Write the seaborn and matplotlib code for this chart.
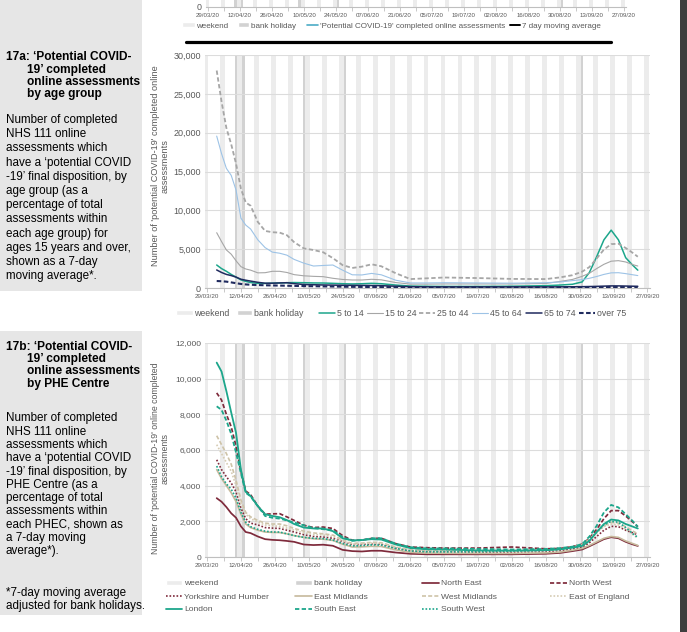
import numpy as np
import pandas as pd
import matplotlib
matplotlib.use("Agg")
import matplotlib.pyplot as plt
import seaborn as sns
from matplotlib.patches import Patch, Rectangle
from matplotlib.lines import Line2D
from matplotlib.ticker import FuncFormatter, FixedLocator

sns.set_style("white")
plt.rcParams["font.family"] = ["Liberation Sans", "DejaVu Sans"]

# ---------------- data ----------------
start_date = "2020-03-29"
days = [4, 6, 8, 10, 12, 14, 16, 18, 21, 24, 27, 30, 33, 36, 40, 44, 48, 52, 56, 60,
        64, 68, 72, 78, 84, 91, 98, 112, 126, 140, 146, 151, 155, 158, 161, 164, 167,
        170, 173, 176, 178]
tick_days = list(range(0, 183, 14))
bank_holidays = ["2020-04-10", "2020-04-13", "2020-05-08", "2020-05-25", "2020-08-31"]

age_labels = ["5 to 14", "15 to 24", "25 to 44", "45 to 64", "65 to 74", "over 75"]
age_5_14 = [2960, 2500, 2150, 1750, 1400, 1050, 850, 700, 600, 580, 620, 650, 680, 700,
            680, 650, 640, 600, 550, 520, 550, 600, 550, 380, 250, 220, 200, 200, 230, 300,
            380, 480, 780, 2000, 4030, 6200, 7450, 6200, 3900, 2900, 2300]
age_15_24 = [7120, 5980, 4900, 4350, 3500, 2750, 2450, 2300, 1950, 1970, 2150, 2150, 2000, 1720,
             1570, 1500, 1460, 1250, 1100, 1030, 1030, 1120, 1050, 700, 500, 500, 520, 520, 520, 580,
             850, 1100, 1500, 1900, 2500, 3050, 3450, 3520, 3350, 3000, 2830]
age_25_44 = [28000, 24000, 20600, 18500, 16000, 12800, 11000, 10600, 8500, 7350, 7180, 7130, 6800, 5900,
             5100, 4890, 4600, 3850, 2950, 2580, 2750, 3050, 2800, 1900, 1150, 1250, 1350, 1280, 1170, 1150,
             1370, 1650, 2100, 2700, 3800, 4950, 5650, 5700, 5150, 4500, 4030]
age_45_64 = [19560, 17300, 15400, 14500, 12600, 9000, 8100, 7600, 6200, 5200, 4620, 4480, 4230, 3680,
             3200, 2830, 2900, 2960, 2300, 1700, 1680, 1880, 1700, 1000, 650, 650, 680, 650, 620, 680,
             780, 950, 1080, 1250, 1480, 1750, 1950, 1970, 1850, 1700, 1600]
age_65_74 = [2320, 2000, 1750, 1600, 1400, 1130, 1000, 890, 730, 620, 620, 650, 680, 560,
             450, 420, 390, 370, 350, 340, 330, 320, 300, 230, 170, 150, 140, 140, 140, 140,
             150, 160, 170, 190, 210, 240, 270, 270, 250, 230, 220]
age_over_75 = [900, 870, 820, 720, 620, 520, 460, 420, 380, 350, 330, 310, 290, 270,
               250, 230, 210, 190, 170, 150, 140, 130, 120, 100, 90, 80, 80, 80, 80, 80,
               85, 90, 95, 100, 110, 120, 130, 130, 125, 120, 115]

phec_labels = ["North East", "North West", "Yorkshire and Humber", "East Midlands",
               "West Midlands", "East of England", "London", "South East", "South West"]
north_east = [3300, 3100, 2800, 2450, 2200, 1720, 1400, 1340, 1150, 1000, 960, 940, 900, 850,
              700, 670, 690, 630, 400, 330, 310, 350, 350, 250, 180, 150, 150, 150, 150, 180,
              230, 330, 420, 600, 800, 1000, 1110, 1050, 850, 700, 620]
north_west = [9200, 8800, 8000, 7300, 6200, 4800, 3700, 3500, 2850, 2400, 2420, 2430, 2250, 2050,
              1780, 1650, 1680, 1600, 1200, 940, 950, 1040, 1050, 750, 560, 520, 500, 500, 560, 460,
              480, 580, 720, 1050, 1550, 2150, 2600, 2600, 2300, 1950, 1700]
yorkshire = [5450, 4900, 4500, 4150, 3650, 2750, 2150, 1900, 1800, 1650, 1620, 1600, 1500, 1400,
             1250, 1150, 1120, 1050, 880, 690, 700, 730, 720, 500, 350, 300, 300, 280, 280, 300,
             360, 450, 550, 800, 1150, 1500, 1720, 1700, 1500, 1350, 1250]
east_midlands = [4900, 4400, 4000, 3600, 3100, 2400, 1850, 1650, 1500, 1400, 1380, 1370, 1300, 1200,
                 1100, 1020, 1000, 930, 720, 560, 570, 600, 590, 400, 260, 220, 210, 200, 200, 230,
                 280, 380, 480, 650, 850, 1050, 1150, 1100, 900, 750, 650]
west_midlands = [6800, 6300, 5800, 5200, 4300, 3200, 2500, 2250, 2050, 1900, 1850, 1850, 1750, 1600,
                 1450, 1350, 1300, 1230, 950, 760, 780, 820, 800, 560, 400, 360, 360, 350, 350, 380,
                 450, 560, 700, 1000, 1400, 1750, 1950, 1900, 1700, 1450, 1300]
east_of_england = [6300, 5800, 5300, 4800, 4000, 3000, 2400, 2150, 1950, 1800, 1750, 1720, 1620, 1500,
                   1350, 1260, 1230, 1150, 900, 720, 740, 780, 760, 540, 380, 340, 340, 330, 330, 360,
                   430, 540, 660, 950, 1350, 1700, 1850, 1800, 1550, 1250, 1050]
london = [10900, 10400, 9300, 8100, 6950, 4900, 3650, 3420, 2850, 2400, 2300, 2230, 2070, 1850,
          1650, 1600, 1600, 1450, 1050, 930, 950, 1000, 980, 700, 500, 430, 420, 370, 360, 380,
          430, 520, 620, 900, 1400, 1850, 2100, 2050, 1850, 1700, 1600]
south_east = [8450, 8250, 7650, 6900, 5850, 4700, 3600, 3400, 2850, 2300, 2200, 2150, 2050, 1930,
              1780, 1620, 1560, 1500, 1120, 910, 950, 1050, 1050, 750, 550, 480, 480, 450, 420, 450,
              500, 580, 720, 1150, 1750, 2500, 2920, 2780, 2400, 2000, 1700]
south_west = [5100, 4500, 4100, 3800, 3300, 2500, 1950, 1700, 1550, 1450, 1400, 1400, 1300, 1200,
              1100, 1050, 1030, 950, 760, 620, 640, 680, 670, 480, 340, 290, 290, 300, 330, 380,
              440, 540, 650, 950, 1400, 1800, 2000, 1950, 1650, 1300, 1100]

# ---------------- styles ----------------
W, H = 687, 632
TEXT_C = "#595959"
AXIS_C = "#BFBFBF"
GRID_C = "#DCDCDC"
WEEKEND_C = "#ECECEC"
BANK_C = "#D2D2D2"
PANEL_C = "#E6E6E6"
TEAL = "#1CA68B"
GREY = "#A6A6A6"
LBLUE = "#9DC3E6"
NAVY = "#1F2A5E"
MAROON = "#7E2A3B"
BEIGE1, BEIGE2, BEIGE3 = "#C6B99C", "#CEC3A8", "#D6CCB4"

age_colors = dict(zip(age_labels, [TEAL, GREY, GREY, LBLUE, NAVY, NAVY]))
age_dashes = dict(zip(age_labels, ["", "", (2.4, 1.4), "", "", (2.2, 1.2)]))
age_widths = dict(zip(age_labels, [1.1, 0.8, 1.3, 0.8, 1.1, 1.5]))

phec_colors = dict(zip(phec_labels, [MAROON, MAROON, MAROON, BEIGE1, BEIGE2, BEIGE3, TEAL, TEAL, TEAL]))
phec_dashes = dict(zip(phec_labels, ["", (2.4, 1.3), (1, 1.1), "", (2.4, 1.3), (1, 1.1), "", (2.4, 1.3), (1, 1.1)]))
phec_widths = dict(zip(phec_labels, [1.25, 1.25, 1.2, 1.2, 1.2, 1.2, 1.3, 1.3, 1.2]))

XMIN, XMAX = -1, 183

start = pd.Timestamp(start_date)
all_days = np.arange(-3, 186)
all_dates = start + pd.to_timedelta(all_days, unit="D")
weekend_days = all_days[all_dates.dayofweek >= 5]
bank_days = [(pd.Timestamp(d) - start).days for d in bank_holidays]
tick_labels = [(start + pd.Timedelta(days=int(d))).strftime("%d/%m/%y") for d in tick_days]

fig = plt.figure(figsize=(W / 100, H / 100), dpi=100)
fig.patch.set_facecolor("white")


def fx(x):
    return x / W


def fy(y):
    return 1 - y / H


def ftext(x, y, s, **kw):
    fig.text(fx(x), fy(y), s, **kw)


def make_axes(left, right, top, bottom):
    return fig.add_axes([fx(left), fy(bottom), (right - left) / W, (bottom - top) / H])


def style_axes(ax, ymax, ystep, ysize):
    ax.bar(weekend_days, ymax, width=1.0, color=WEEKEND_C, linewidth=0, zorder=0.3)
    ax.bar(bank_days, ymax, width=1.0, color=BANK_C, linewidth=0, zorder=0.35)
    ax.set_xlim(XMIN, XMAX)
    ax.set_ylim(0, ymax)
    ax.set_axisbelow(True)
    ax.set_yticks(np.arange(0, ymax + 1, ystep))
    ax.yaxis.set_major_formatter(FuncFormatter(lambda v, p: f"{v:,.0f}"))
    ax.grid(axis="y", color=GRID_C, lw=0.8)
    ax.grid(axis="x", visible=False)
    ax.xaxis.set_major_locator(FixedLocator(tick_days))
    ax.xaxis.set_minor_locator(FixedLocator([d + 7 for d in tick_days[:-1]]))
    ax.set_xticklabels(tick_labels)
    ax.tick_params(axis="x", which="both", direction="out", length=3, width=0.6,
                   color=AXIS_C, labelsize=4.5, labelcolor=TEXT_C, pad=1.5, bottom=True)
    ax.tick_params(axis="y", length=0, labelsize=ysize, labelcolor=TEXT_C, pad=2.6)
    for s in ["left", "top", "right"]:
        ax.spines[s].set_visible(False)
    ax.spines["bottom"].set_color(AXIS_C)
    ax.spines["bottom"].set_linewidth(0.8)
    ax.set_xlabel("")


def key(handle, label, x, y, fs, hl):
    fig.legend([handle], [label], loc="center left", bbox_to_anchor=(fx(x), fy(y)),
               bbox_transform=fig.transFigure, frameon=False, fontsize=fs,
               handlelength=hl, handleheight=0.6, handletextpad=0.2, borderpad=0,
               borderaxespad=0, labelcolor=TEXT_C)


# ---------------- page background ----------------
for top, bot in [(0, 291), (331, 615)]:
    fig.add_artist(Rectangle((0, fy(bot)), fx(142), (bot - top) / H, transform=fig.transFigure,
                             facecolor=PANEL_C, edgecolor="none", zorder=0))
fig.add_artist(Rectangle((fx(680), 0), fx(8), 1, transform=fig.transFigure,
                         facecolor="#3E3E3E", edgecolor="none", zorder=0))

# ---------------- remnant of previous chart (top) ----------------
axT = make_axes(205.7, 626.3, -4, 7)
axT.bar(weekend_days, 1, width=1.0, color=WEEKEND_C, linewidth=0, zorder=0.3)
axT.bar(bank_days, 1, width=1.0, color=BANK_C, linewidth=0, zorder=0.35)
axT.set_xlim(XMIN, XMAX)
axT.set_ylim(0, 1)
axT.set_yticks([0])
axT.xaxis.set_major_locator(FixedLocator(tick_days))
axT.xaxis.set_minor_locator(FixedLocator([d + 7 for d in tick_days[:-1]]))
axT.set_xticklabels(tick_labels)
axT.tick_params(axis="x", which="both", direction="out", length=3, width=0.6, color=AXIS_C,
                labelsize=4.4, labelcolor=TEXT_C, pad=1.5, bottom=True)
axT.tick_params(axis="y", length=0, labelsize=6.4, labelcolor=TEXT_C, pad=3)
for s in ["left", "top", "right"]:
    axT.spines[s].set_visible(False)
axT.spines["bottom"].set_color(AXIS_C)
key(Patch(facecolor=WEEKEND_C), "weekend", 182, 26, 5.8, 1.6)
key(Patch(facecolor=BANK_C), "bank holiday", 238, 26, 5.8, 1.4)
key(Line2D([], [], color="#4BACC6", lw=1.2), "'Potential COVID-19' completed online assessments", 307, 26, 5.8, 1.4)
key(Line2D([], [], color="black", lw=1.4), "7 day moving average", 510, 26, 5.8, 1.3)
fig.add_artist(Line2D([fx(186), fx(611)], [fy(41.5), fy(41.5)], transform=fig.transFigure,
                      color="black", lw=2.3))

# ---------------- chart 17a ----------------
axA = make_axes(204.6, 649.9, 55, 288)
style_axes(axA, 30000, 5000, 6.5)
df_age = pd.DataFrame({
    "day": days * len(age_labels),
    "count": sum([age_5_14, age_15_24, age_25_44, age_45_64, age_65_74, age_over_75], []),
    "group": np.repeat(age_labels, len(days)),
})
sns.lineplot(data=df_age, x="day", y="count", hue="group", style="group", size="group",
             hue_order=age_labels, style_order=age_labels, size_order=age_labels,
             palette=age_colors, dashes=age_dashes, sizes=age_widths,
             legend=False, errorbar=None, ax=axA, zorder=3)
axA.set_xlabel("")
axA.set_ylabel("Number of 'potential COVID-19' completed online\nassessments",
               fontsize=6.6, color=TEXT_C, linespacing=1.1)
axA.yaxis.set_label_coords((169.5 - 204.6) / 445.3, (288 - 166) / 233)

leg_y = 313
key(Patch(facecolor=WEEKEND_C), "weekend", 176, leg_y, 6.3, 1.9)
key(Patch(facecolor=BANK_C), "bank holiday", 237, leg_y, 6.3, 1.75)
for lab, xk in zip(age_labels, [319, 367, 419, 472, 526, 579]):
    key(Line2D([], [], color=age_colors[lab], lw=age_widths[lab],
               dashes=age_dashes[lab] if age_dashes[lab] else (None, None)),
        lab, xk, leg_y, 6.3, 1.85)

# ---------------- chart 17b ----------------
axB = make_axes(204.6, 649.9, 343, 557)
style_axes(axB, 12000, 2000, 6.0)
df_phec = pd.DataFrame({
    "day": days * len(phec_labels),
    "count": sum([north_east, north_west, yorkshire, east_midlands, west_midlands,
                  east_of_england, london, south_east, south_west], []),
    "region": np.repeat(phec_labels, len(days)),
})
sns.lineplot(data=df_phec, x="day", y="count", hue="region", style="region", size="region",
             hue_order=phec_labels, style_order=phec_labels, size_order=phec_labels,
             palette=phec_colors, dashes=phec_dashes, sizes=phec_widths,
             legend=False, errorbar=None, ax=axB, zorder=3)
axB.set_xlabel("")
axB.set_ylabel("Number of 'potential COVID-19' online completed\nassessments",
               fontsize=6.3, color=TEXT_C, linespacing=1.1)
axB.yaxis.set_label_coords((170 - 204.6) / 445.3, (557 - 458) / 214)

col_x = [165.5, 295, 422, 550]
row_y = [583.6, 597.0, 609.5]
entries = [(Patch(facecolor=WEEKEND_C), "weekend"), (Patch(facecolor=BANK_C), "bank holiday")]
for lab in phec_labels:
    entries.append((Line2D([], [], color=phec_colors[lab], lw=phec_widths[lab],
                           dashes=phec_dashes[lab] if phec_dashes[lab] else (None, None)), lab))
for i, (h, lab) in enumerate(entries):
    key(h, lab, col_x[i % 4], row_y[i // 4], 6.1, 2.0)

# ---------------- left-hand text ----------------
bold = dict(fontsize=8.6, fontweight="bold", va="center", ha="left", color="black")
reg = dict(fontsize=8.4, va="center", ha="left", color="black")

title_a = ["17a: \u2018Potential COVID-", "19\u2019 completed", "online assessments", "by age group"]
for i, s in enumerate(title_a):
    ftext(6 if i == 0 else 27, 57.3 + 12.3 * i, s, **bold)
body_a = ["Number of completed", "NHS 111 online", "assessments which",
          "have a \u2018potential COVID", "-19\u2019 final disposition, by", "age group (as a",
          "percentage of total", "assessments within", "each age group) for",
          "ages 15 years and over,", "shown as a 7-day", "moving average*."]
for i, s in enumerate(body_a):
    ftext(6, 120 + 14.2 * i, s, **reg)

title_b = ["17b: \u2018Potential COVID-", "19\u2019 completed", "online assessments", "by PHE Centre"]
for i, s in enumerate(title_b):
    ftext(6 if i == 0 else 27, 346.7 + 12.4 * i, s, **bold)
body_b = ["Number of completed", "NHS 111 online", "assessments which",
          "have a \u2018potential COVID", "-19\u2019 final disposition, by", "PHE Centre (as a",
          "percentage of total", "assessments within", "each PHEC, shown as",
          "a 7-day moving", "average*)."]
for i, s in enumerate(body_b):
    ftext(6, 418.3 + 13.3 * i, s, **reg)
ftext(6, 593.3, "*7-day moving average", **reg)
ftext(6, 606, "adjusted for bank holidays.", **reg)

fig.savefig("out.png", dpi=100)
